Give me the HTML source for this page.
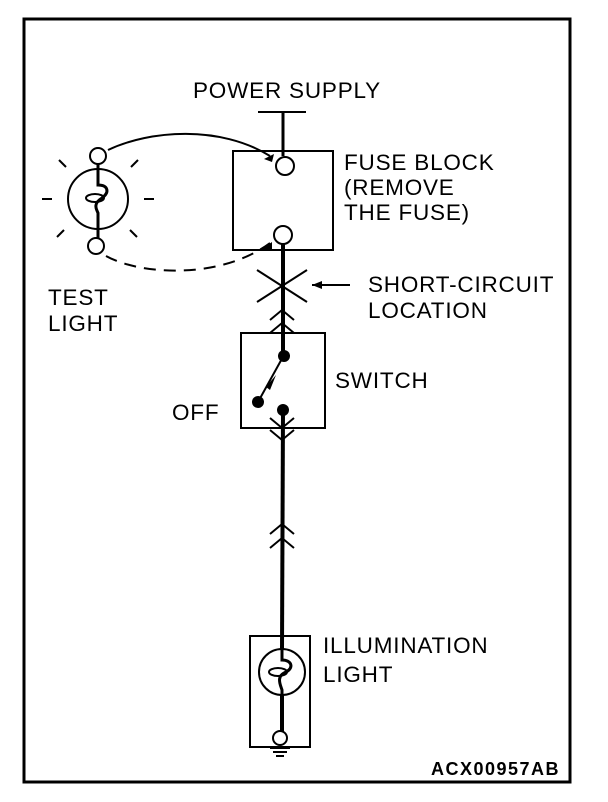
<!DOCTYPE html>
<html><head><style>body{margin:0;background:#fff}svg{display:block}text{font-family:"Liberation Sans",sans-serif;font-size:22.5px;letter-spacing:0.8px;fill:#000}</style></head><body>
<svg width="608" height="802" viewBox="0 0 608 802" xmlns="http://www.w3.org/2000/svg">
<rect x="24" y="19" width="546" height="763" fill="none" stroke="#000" stroke-width="3"/>
<g stroke="#000" fill="none">
<line x1="258" y1="112" x2="306" y2="112" stroke-width="2"/>
<line x1="283" y1="112" x2="283" y2="156" stroke-width="3"/>
<rect x="233" y="151" width="100" height="99" stroke-width="2"/>
<circle cx="285" cy="166" r="9" stroke-width="2" fill="#fff"/>
<circle cx="283" cy="235" r="9" stroke-width="2" fill="#fff"/>
<line x1="283" y1="244" x2="283" y2="356" stroke-width="4"/>
<line x1="283" y1="410" x2="282" y2="650" stroke-width="4"/>
<line x1="282" y1="694" x2="282" y2="732" stroke-width="4"/>
<line x1="257" y1="270" x2="307" y2="302" stroke-width="2"/>
<line x1="257" y1="302" x2="307" y2="270" stroke-width="2"/>
<line x1="312" y1="285" x2="350" y2="285" stroke-width="2"/>
<path d="M108,150 C150,130 220,125 270,156" stroke-width="2"/>
<path d="M106,256 C140,275 220,280 270,243" stroke-width="2" stroke-dasharray="12,8"/>
<rect x="241" y="333" width="84" height="95" stroke-width="2"/>
<line x1="284" y1="355" x2="258" y2="402" stroke-width="2"/>
<path d="M270,320 L282,310 L294,320 M270,333 L282,323 L294,333" stroke-width="2"/>
<path d="M270,418 L282,428 L294,418 M270,430 L282,440 L294,430" stroke-width="2"/>
<path d="M270,534 L282,524 L294,534 M270,548 L282,538 L294,548" stroke-width="2"/>
<rect x="250" y="636" width="60" height="111" stroke-width="2"/>
<circle cx="282" cy="672" r="23" stroke-width="2" fill="#fff"/>
<path d="M282,640 L282,660 C292,660 294,668 286,672 C276,676 280,684 282,690 L282,732" stroke-width="3"/>
<ellipse cx="278" cy="672" rx="9" ry="4" stroke-width="2"/>
<circle cx="280" cy="738" r="7" stroke-width="2" fill="#fff"/>
<line x1="270" y1="748" x2="290" y2="748" stroke-width="2"/>
<line x1="273" y1="752" x2="287" y2="752" stroke-width="2"/>
<line x1="276" y1="756" x2="284" y2="756" stroke-width="2"/>
<circle cx="98" cy="199" r="30" stroke-width="2" fill="#fff"/>
<path d="M98,164 L98,185 C108,185 110,192 102,198 C92,204 97,210 98,213 L98,238" stroke-width="3"/>
<ellipse cx="95" cy="198" rx="9" ry="4" stroke-width="2"/>
<circle cx="98" cy="156" r="8" stroke-width="2" fill="#fff"/>
<circle cx="96" cy="246" r="8" stroke-width="2" fill="#fff"/>
<g stroke-width="2">
<line x1="42" y1="199" x2="52" y2="199"/><line x1="144" y1="199" x2="154" y2="199"/>
<line x1="59" y1="160" x2="66" y2="167"/><line x1="138" y1="160" x2="131" y2="167"/>
<line x1="57" y1="237" x2="64" y2="230"/><line x1="137" y1="237" x2="130" y2="230"/>
</g>
</g>
<g fill="#000">
<circle cx="284" cy="356" r="6"/><circle cx="258" cy="402" r="6"/><circle cx="283" cy="410" r="6"/>
<path d="M266,387 L276,375 L270,390Z"/>
<path d="M312,285 L322,281 L322,289Z"/>
<path d="M264,159 L274,154 L272,162Z"/>
<path d="M262,249 L272,242 L272,250Z"/>
</g>
<text x="193" y="98">POWER SUPPLY</text>
<text x="344" y="170">FUSE BLOCK</text>
<text x="344" y="195">(REMOVE</text>
<text x="344" y="220">THE FUSE)</text>
<text x="368" y="292">SHORT-CIRCUIT</text>
<text x="368" y="318">LOCATION</text>
<text x="335" y="388">SWITCH</text>
<text x="172" y="420">OFF</text>
<text x="48" y="305">TEST</text>
<text x="48" y="331">LIGHT</text>
<text x="323" y="653">ILLUMINATION</text>
<text x="323" y="682">LIGHT</text>
<text x="431" y="775" style="font-weight:bold;font-size:18px;letter-spacing:1.5px">ACX00957AB</text>
</svg>
</body></html>
